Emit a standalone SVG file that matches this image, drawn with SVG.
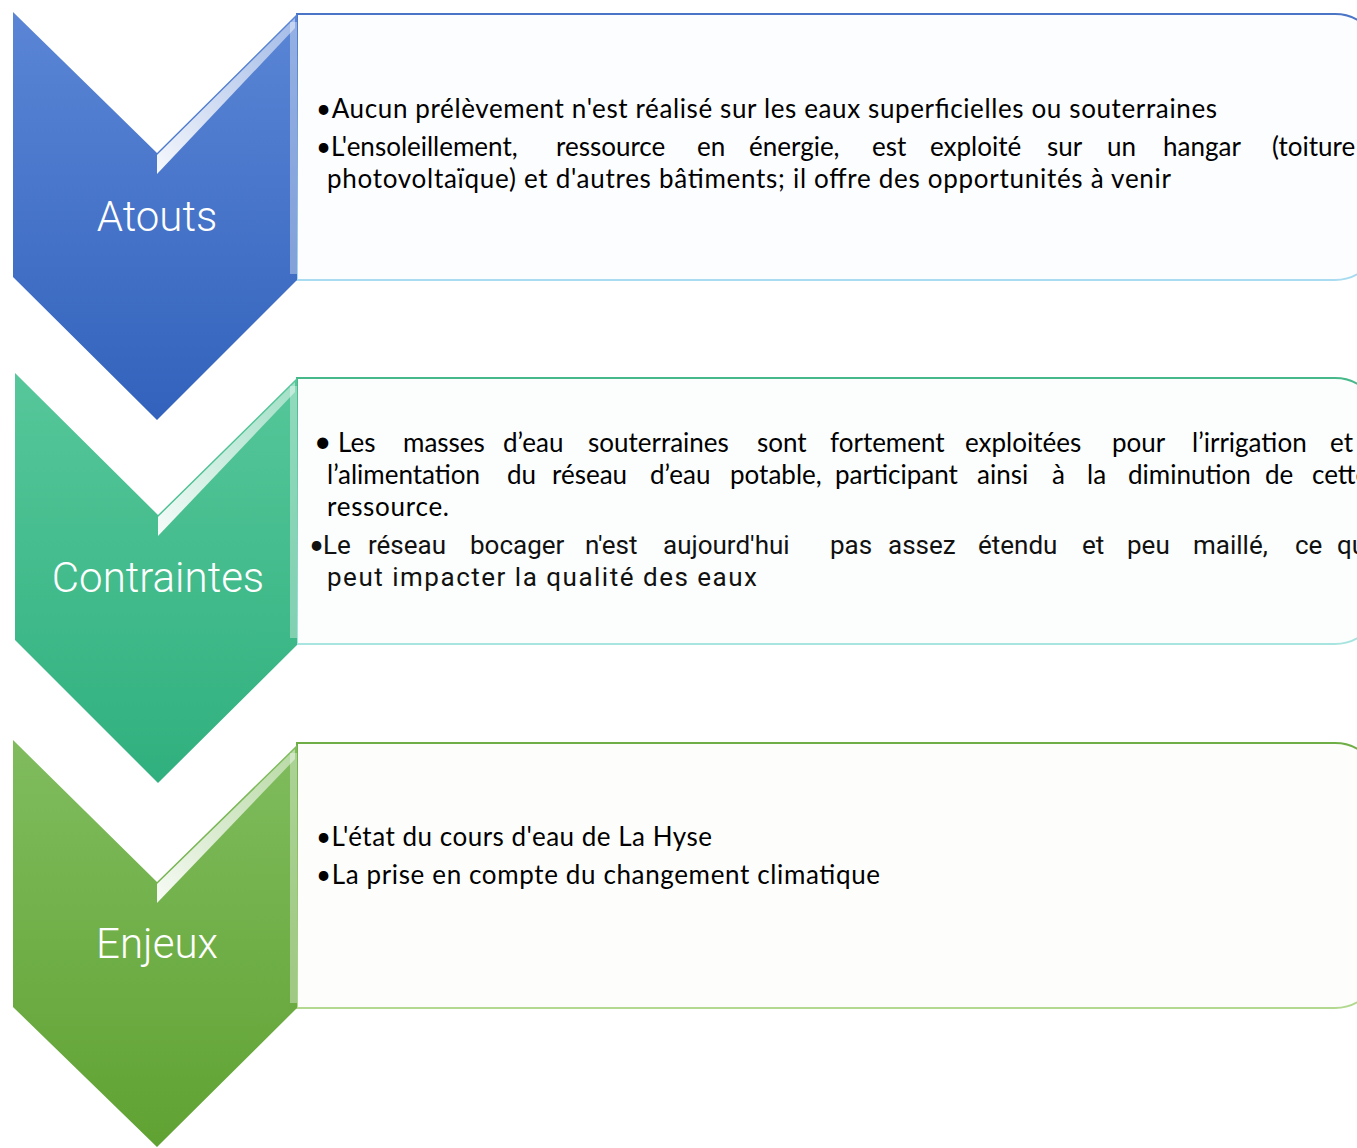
<svg xmlns="http://www.w3.org/2000/svg" width="1357" height="1148" viewBox="0 0 1357 1148">
  <defs>
    <linearGradient id="gBlue" x1="0" y1="0" x2="0" y2="1">
      <stop offset="0" stop-color="#5b86d6"/>
      <stop offset="1" stop-color="#3262bc"/>
    </linearGradient>
    <linearGradient id="gTeal" x1="0" y1="0" x2="0" y2="1">
      <stop offset="0" stop-color="#56c79a"/>
      <stop offset="1" stop-color="#30b07e"/>
    </linearGradient>
    <linearGradient id="gGreen" x1="0" y1="0" x2="0" y2="1">
      <stop offset="0" stop-color="#80bc5e"/>
      <stop offset="1" stop-color="#60a232"/>
    </linearGradient>
    <linearGradient id="sBlue" x1="0" y1="0" x2="0" y2="1">
      <stop offset="0" stop-color="#4a74c6"/>
      <stop offset="1" stop-color="#a9dcf0"/>
    </linearGradient>
    <linearGradient id="sTeal" x1="0" y1="0" x2="0" y2="1">
      <stop offset="0" stop-color="#46b88a"/>
      <stop offset="1" stop-color="#a8e4e0"/>
    </linearGradient>
    <linearGradient id="sGreen" x1="0" y1="0" x2="0" y2="1">
      <stop offset="0" stop-color="#6fae47"/>
      <stop offset="1" stop-color="#b2d98f"/>
    </linearGradient>
    <linearGradient id="hl" x1="0" y1="1" x2="1" y2="0">
      <stop offset="0" stop-color="#ffffff" stop-opacity="0.95"/>
      <stop offset="1" stop-color="#ffffff" stop-opacity="0.45"/>
    </linearGradient>
  </defs>
  <style>
    .lbl { font-family: Roboto, "Liberation Sans", sans-serif; font-weight: 300; font-size: 42px; fill: #ffffff; text-anchor: middle; }
    .body { font-family: Lato, "Open Sans", "Liberation Sans", sans-serif; font-size: 26px; fill: #000000; }
    .body2 { font-family: Roboto, "Liberation Sans", sans-serif; font-size: 26px; fill: #111111; }
    .bul { font-family: Lato, "Open Sans", "Liberation Sans", sans-serif; }
    .box { stroke-width: 2; }
    .hl { fill: url(#hl); }
    .edge { fill: #ffffff; opacity: 0.35; }
  </style>

  <g id="connectors"/>

  <!-- Atouts -->
  <g id="box-atouts">
    <path class="box" d="M297,14 H1335 A45,45 0 0 1 1380,59 V235 A45,45 0 0 1 1335,280 H297 Z" fill="#fcfdff" stroke="url(#sBlue)"/>
    <text class="body" x="316" y="118" textLength="901">•Aucun prélèvement n'est réalisé sur les eaux superficielles ou souterraines</text>
    <text class="body" y="156"><tspan x="316">•L'ensoleillement,</tspan><tspan x="556">ressource</tspan><tspan x="697">en</tspan><tspan x="749">énergie,</tspan><tspan x="872">est</tspan><tspan x="930">exploité</tspan><tspan x="1047">sur</tspan><tspan x="1107">un</tspan><tspan x="1163">hangar</tspan><tspan x="1272">(toiture</tspan></text>
    <text class="body" x="327" y="188" textLength="844">photovoltaïque) et d'autres bâtiments; il offre des opportunités à venir</text>
  </g>
  <g id="node-atouts">
    <polygon points="13,12 157,153 297,14 297,280 157,420 13,277" fill="url(#gBlue)"/>
    <polygon class="hl" points="157,155 295,18 295,28 157,174"/>
    <rect class="edge" x="290" y="22" width="7" height="252"/>
    <text class="lbl" x="157" y="231">Atouts</text>
  </g>

  <!-- Contraintes -->
  <g id="box-contraintes">
    <path class="box" d="M297,378 H1335 A45,45 0 0 1 1380,423 V599 A45,45 0 0 1 1335,644 H297 Z" fill="#fbfefd" stroke="url(#sTeal)"/>
    <text class="body" y="452"><tspan x="314" font-size="30">•</tspan><tspan x="338">Les</tspan><tspan x="403">masses</tspan><tspan x="503">d’eau</tspan><tspan x="588">souterraines</tspan><tspan x="757">sont</tspan><tspan x="830">fortement</tspan><tspan x="965">exploitées</tspan><tspan x="1112">pour</tspan><tspan x="1192">l’irrigation</tspan><tspan x="1330">et</tspan></text>
    <text class="body" y="484"><tspan x="327">l’alimentation</tspan><tspan x="507">du</tspan><tspan x="552">réseau</tspan><tspan x="650">d’eau</tspan><tspan x="730">potable,</tspan><tspan x="835">participant</tspan><tspan x="977">ainsi</tspan><tspan x="1052">à</tspan><tspan x="1087">la</tspan><tspan x="1128">diminution</tspan><tspan x="1265">de</tspan><tspan x="1312">cette</tspan></text>
    <text class="body" x="327" y="516" textLength="122">ressource.</text>
    <text class="body2" y="554"><tspan class="bul" x="309">•</tspan><tspan x="323">Le</tspan><tspan x="368">réseau</tspan><tspan x="470">bocager</tspan><tspan x="585">n'est</tspan><tspan x="663">aujourd'hui</tspan><tspan x="830">pas</tspan><tspan x="888">assez</tspan><tspan x="978">étendu</tspan><tspan x="1082">et</tspan><tspan x="1127">peu</tspan><tspan x="1193">maillé,</tspan><tspan x="1295">ce</tspan><tspan x="1337">qui</tspan></text>
    <text class="body2" x="327" y="586" textLength="430">peut impacter la qualité des eaux</text>
  </g>
  <g id="node-contraintes">
    <polygon points="15,373 158,515 297,378 297,645 158,783 15,640" fill="url(#gTeal)"/>
    <polygon class="hl" points="158,517 295,382 295,392 158,536"/>
    <rect class="edge" x="290" y="386" width="7" height="252"/>
    <text class="lbl" x="158" y="592">Contraintes</text>
  </g>

  <!-- Enjeux -->
  <g id="box-enjeux">
    <path class="box" d="M297,743 H1335 A45,45 0 0 1 1380,788 V963 A45,45 0 0 1 1335,1008 H297 Z" fill="#fdfefc" stroke="url(#sGreen)"/>
    <text class="body" x="316" y="846" textLength="396">•L'état du cours d'eau de La Hyse</text>
    <text class="body" x="316" y="884" textLength="564">•La prise en compte du changement climatique</text>
  </g>
  <g id="node-enjeux">
    <polygon points="13,740 157,882 297,745 297,1008 157,1147 13,1007" fill="url(#gGreen)"/>
    <polygon class="hl" points="157,884 295,749 295,759 157,903"/>
    <rect class="edge" x="290" y="753" width="7" height="250"/>
    <text class="lbl" x="157" y="958">Enjeux</text>
  </g>
</svg>
